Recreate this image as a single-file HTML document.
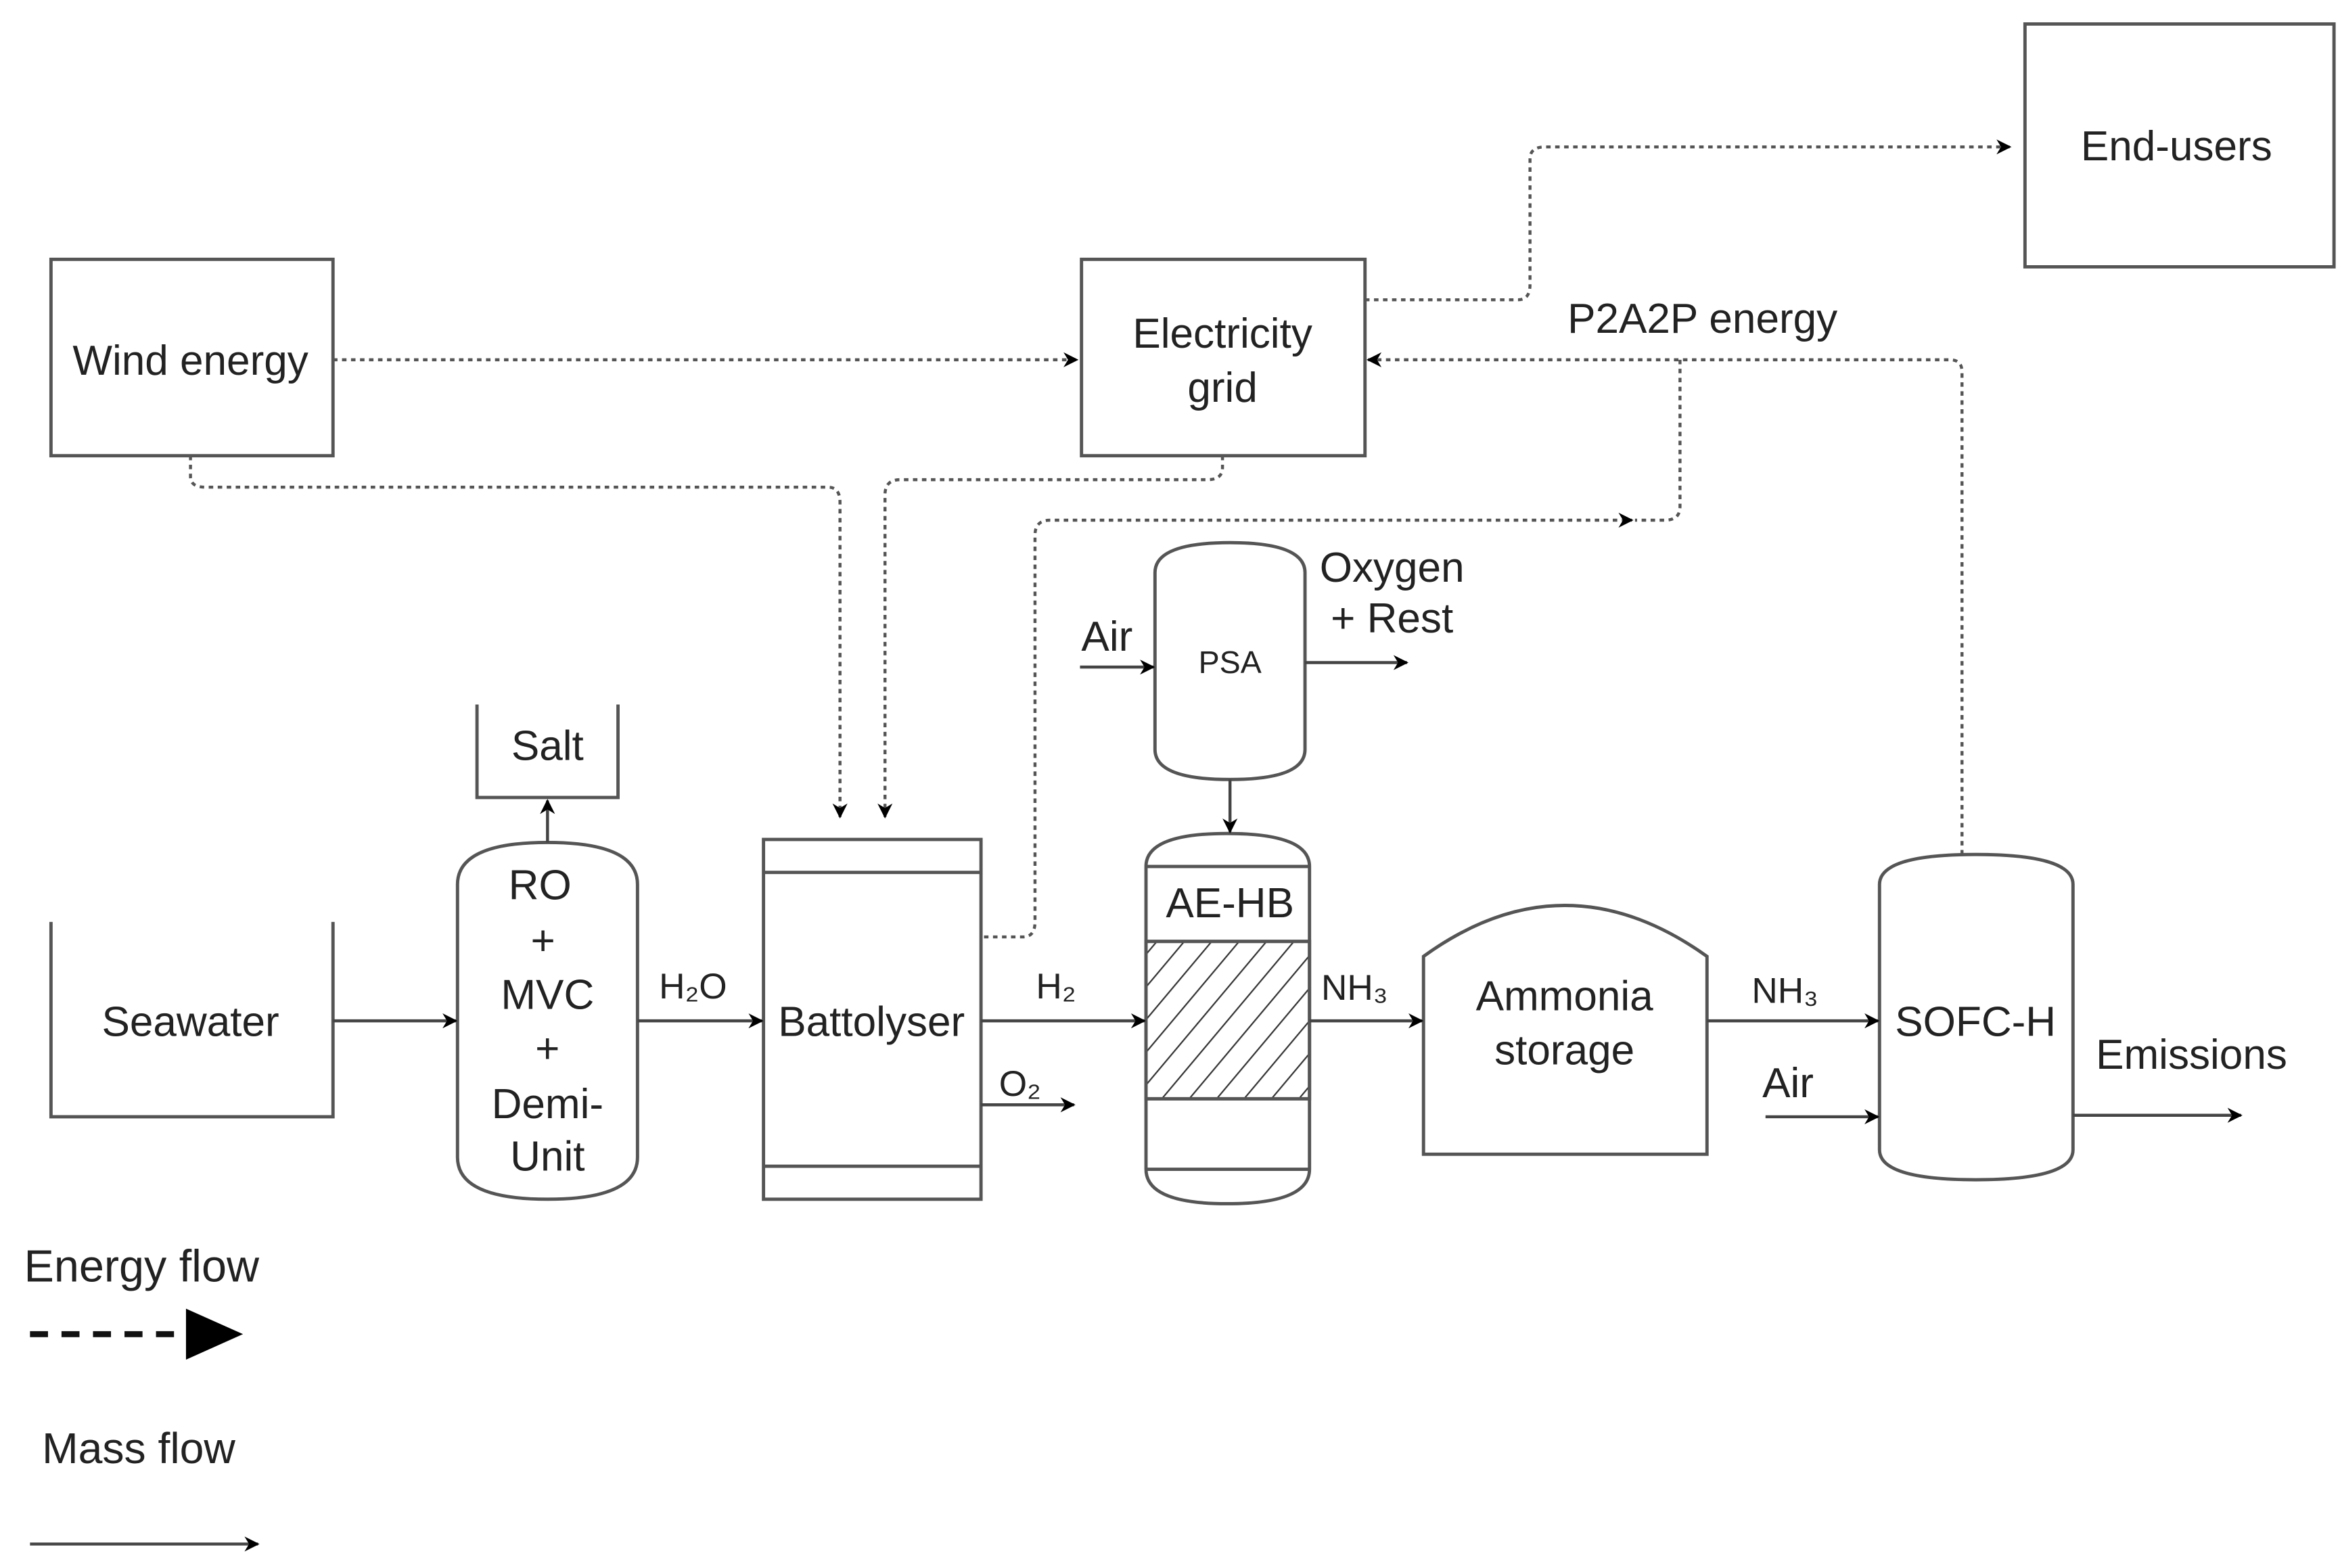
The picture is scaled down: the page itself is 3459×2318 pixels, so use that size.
<!DOCTYPE html>
<html><head><meta charset="utf-8"><style>html,body{margin:0;padding:0;background:#fff}svg{display:block}</style></head>
<body>
<svg width="3459" height="2318" viewBox="0 0 1560 1046" preserveAspectRatio="none" xmlns="http://www.w3.org/2000/svg" font-family="Liberation Sans, sans-serif" fill="#222">
<defs>
<marker id="a" markerWidth="10" markerHeight="10" refX="9" refY="5" orient="auto" markerUnits="userSpaceOnUse"><path d="M0,0 L10,5 L0,10 L3,5 z" fill="#000"/></marker>
<pattern id="h" width="14" height="14" patternUnits="userSpaceOnUse" patternTransform="rotate(40)"><line x1="0" y1="0" x2="0" y2="14" stroke="#333" stroke-width="2"/></pattern>
</defs>
<g stroke="#555" stroke-width="2.2" fill="none">
<rect x="34" y="173" width="188" height="131"/>
<rect x="721" y="173" width="189" height="131"/>
<rect x="1350" y="16" width="206" height="162"/>
<path d="M318,470 V532 H412 V470"/>
<path d="M34,615 V745 H222 V615"/>
<path d="M305,590 Q305,562 365,562 Q425,562 425,590 V772 Q425,800 365,800 Q305,800 305,772 Z"/>
<rect x="509" y="560" width="145" height="240"/>
<line x1="509" y1="582" x2="654" y2="582"/><line x1="509" y1="778" x2="654" y2="778"/>
<path d="M770,382 Q770,362 820,362 Q870,362 870,382 V500 Q870,520 820,520 Q770,520 770,500 Z"/>
<rect x="764" y="628" width="109" height="105" fill="url(#h)"/>
<path d="M764,578 Q764,556 818,556 Q873,556 873,578 V780 Q873,803 818,803 Q764,803 764,780 Z"/>
<line x1="764" y1="578" x2="873" y2="578"/><line x1="764" y1="628" x2="873" y2="628"/><line x1="764" y1="733" x2="873" y2="733"/><line x1="764" y1="780" x2="873" y2="780"/>
<path d="M949,638 Q1043,570 1138,638 V770 H949 Z"/>
<path d="M1253,590 Q1253,570 1317,570 Q1382,570 1382,590 V767 Q1382,787 1317,787 Q1253,787 1253,767 Z"/>
</g>
<g stroke="#444" stroke-width="2" fill="none" marker-end="url(#a)">
<line x1="365" y1="562" x2="365" y2="534"/>
<line x1="222" y1="681" x2="304" y2="681"/>
<line x1="425" y1="681" x2="508" y2="681"/>
<line x1="654" y1="681" x2="763" y2="681"/>
<line x1="654" y1="737" x2="716" y2="737"/>
<line x1="720" y1="445" x2="769" y2="445"/>
<line x1="870" y1="442" x2="938" y2="442"/>
<line x1="820" y1="520" x2="820" y2="555"/>
<line x1="873" y1="681" x2="948" y2="681"/>
<line x1="1138" y1="681" x2="1252" y2="681"/>
<line x1="1177" y1="745" x2="1252" y2="745"/>
<line x1="1382" y1="744" x2="1494" y2="744"/>
<line x1="20" y1="1030" x2="172" y2="1030"/>
</g>
<g stroke="#555" stroke-width="2" stroke-dasharray="3,3" fill="none">
<line x1="222" y1="240" x2="718" y2="240" marker-end="url(#a)"/>
<path d="M910,200 H1012 Q1020,200 1020,190 V106 Q1020,98 1030,98 H1340" marker-end="url(#a)"/>
<path d="M1308,570 V248 Q1308,240 1300,240 H912" marker-end="url(#a)"/>
<path d="M1120,240 V338 Q1120,347 1110,347 H1090"/>
<path d="M656,625 H682 Q690,625 690,615 V357 Q690,347 700,347 H1088" marker-end="url(#a)"/>
<path d="M127,304 V318 Q127,325 137,325 H552 Q560,325 560,335 V545" marker-end="url(#a)"/>
<path d="M815,304 V312 Q815,320 805,320 H600 Q590,320 590,330 V545" marker-end="url(#a)"/>
</g>
<line x1="20" y1="890" x2="128" y2="890" stroke="#111" stroke-width="4" stroke-dasharray="12,9"/>
<path d="M124,873 L162,890 L124,907 Z" fill="#000"/>
<g font-size="28" text-anchor="middle">
<text x="127" y="250">Wind energy</text>
<text x="815" y="232">Electricity</text>
<text x="815" y="268">grid</text>
<text x="1451" y="107">End-users</text>
<text x="1135" y="222">P2A2P energy</text>
<text x="365" y="507">Salt</text>
<text x="127" y="691">Seawater</text>
<text x="360" y="600">RO</text><text x="362" y="637">+</text><text x="365" y="673">MVC</text><text x="365" y="709">+</text><text x="365" y="746">Demi-</text><text x="365" y="781">Unit</text>
<text x="462" y="666" font-size="24">H₂O</text>
<text x="581" y="691">Battolyser</text>
<text x="704" y="666" font-size="24">H₂</text>
<text x="680" y="731" font-size="24">O₂</text>
<text x="820" y="612">AE-HB</text>
<text x="820" y="449" font-size="21">PSA</text>
<text x="738" y="434">Air</text>
<text x="928" y="388">Oxygen</text>
<text x="928" y="422">+ Rest</text>
<text x="903" y="667" font-size="24">NH₃</text>
<text x="1043" y="674">Ammonia</text>
<text x="1043" y="710">storage</text>
<text x="1190" y="669" font-size="24">NH₃</text>
<text x="1192" y="732">Air</text>
<text x="1317" y="691">SOFC-H</text>
<text x="1461" y="713">Emissions</text>
</g>
<text x="16" y="855" font-size="30">Energy flow</text>
<text x="28" y="976" font-size="29">Mass flow</text>
</svg>
</body></html>
